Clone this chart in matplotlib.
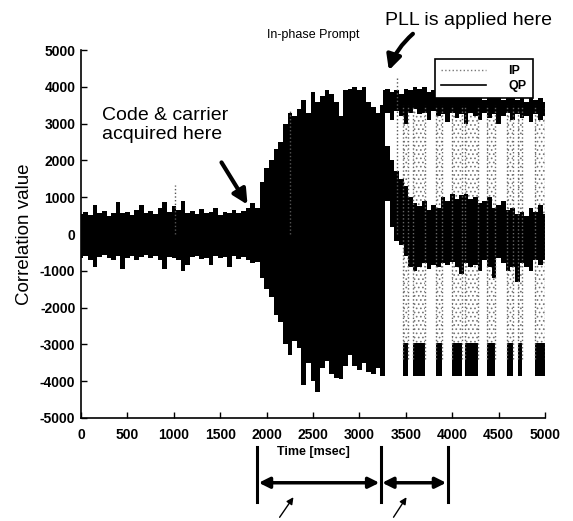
"""In-phase / quadrature prompt correlation during acquisition and PLL lock."""

import matplotlib.pyplot as plt
import numpy as np
from matplotlib.lines import Line2D

plt.rcParams["font.family"] = ["Liberation Sans", "DejaVu Sans"]
plt.rcParams["hatch.linewidth"] = 0.7
plt.rcParams["axes.unicode_minus"] = False

# envelope of the dense QP (and pre-lock IP) trace, one value per 50 ms
t_env = np.arange(0, 5001, 50)
qp_hi = [
    550, 600, 520, 800, 560, 620, 500, 580, 880, 560,
    600, 520, 640, 800, 560, 620, 540, 700, 880, 600,
    750, 650, 900, 580, 620, 540, 680, 560, 600, 700,
    520, 600, 560, 640, 580, 620, 700, 850, 700, 1400,
    1800, 2000, 2300, 2500, 3000, 3300, 3200, 3400, 3650, 3300,
    3850, 3600, 3750, 3900, 3800, 3600, 3200, 3900, 3950, 4000,
    3900, 4000, 3600, 3450, 3300, 3500, 2400, 2000, 1700, 1500,
    1300, 1000, 850, 750, 900, 650, 800, 700, 1000, 900,
    1100, 950, 1050, 1100, 950, 1000, 850, 900, 1000, 700,
    800, 900, 650, 700, 550, 600, 500, 700, 600, 800,
    550,
]
qp_lo = [
    -650, -600, -700, -900, -620, -580, -650, -700, -600, -950,
    -640, -600, -700, -620, -580, -660, -600, -700, -950, -620,
    -650, -700, -1000, -850, -620, -600, -680, -640, -850, -600,
    -650, -620, -900, -600, -680, -620, -700, -800, -750, -1200,
    -1500, -1700, -2200, -2400, -3000, -3300, -2900, -3100, -4100, -3500,
    -4000, -4300, -3650, -3450, -3800, -3900, -3950, -3600, -3300, -3600,
    -3700, -3500, -3750, -3800, -3650, -3850, 900, 200, -200, -300,
    -600, -900, -1000, -900, -800, -950, -850, -900, -800, -850,
    -750, -900, -1100, -800, -900, -850, -1000, -700, -900, -1200,
    -650, -800, -1000, -900, -1300, -800, -900, -1000, -700, -850,
    -700,
]

# IP after the PLL is applied: positive band, one value per 50 ms
pll_start = 3250
t_ip = np.arange(pll_start, 5001, 50)
ip_top_hi = [
    3900, 3950, 3850, 3900, 3800, 3950, 3900, 4000, 3950, 4000,
    3850, 3900, 3800, 3750, 3900, 3800, 3700, 3850, 3750, 3800,
    3700, 3750, 3650, 3800, 3700, 3750, 3650, 3700, 3800, 3650,
    3700, 3600, 3750, 3650, 3700, 3600,
]
ip_top_lo = [
    3200, 3300, 3100, 3350, 3200, 3000, 3300, 3400, 3250, 3300,
    3100, 3350, 3200, 3250, 3050, 3300, 3150, 3250, 3000, 3300,
    3200, 3100, 3300, 3150, 3250, 3000, 3200, 3300, 3100, 3250,
    3150, 3200, 3050, 3250, 3100, 3200,
]
# intervals where the data bits flip IP negative
ip_high = 3500
ip_low = -3400
ip_noise = 450
ip_neg_start = [3470, 3580, 3830, 4000, 4140, 4370, 4590, 4710, 4890]
ip_neg_end = [3520, 3710, 3890, 4100, 4280, 4460, 4650, 4750, 5000]

# isolated dotted IP spikes
ip_spike_t = [1010, 2250, 3400]
ip_spike_v = [1330, 3370, 4300]

# acquisition / PLL / settled marks under the axis
phase_marks = [1900, 3230, 3950]

fig = plt.figure(figsize=(5.73, 5.21), dpi=100)
ax = fig.add_axes([0.1414, 0.1977, 0.8098, 0.7063])

# IP bit flips: stippled transitions plus the negative band
for s, e in zip(ip_neg_start, ip_neg_end):
    ax.fill_between([s, e], ip_low, ip_high, facecolor="none",
                    edgecolor="#777777", hatch="....", linewidth=0)
    ax.vlines([s, e], ip_low, ip_high, colors="#666666", linestyles=":",
              linewidth=1)
    ax.fill_between([s, e], ip_low - ip_noise, ip_low + ip_noise,
                    color="black", linewidth=0)
ax.vlines(ip_spike_t, 0, ip_spike_v, colors="#555555", linestyles=":", linewidth=1)

ax.fill_between(t_env, qp_lo, qp_hi, step="mid", color="black", linewidth=0)
ax.fill_between(t_ip, ip_top_lo, ip_top_hi, step="mid", color="black",
                linewidth=0)

ax.set_xlim(0, 5000)
ax.set_ylim(-5000, 5000)
ax.set_xticks(np.arange(0, 5001, 500))
ax.set_yticks(np.arange(-5000, 5001, 1000))
ax.spines["top"].set_visible(False)
ax.spines["right"].set_visible(False)
ax.spines["left"].set_linewidth(1.2)
ax.spines["bottom"].set_linewidth(1.2)
ax.tick_params(direction="in", length=4, width=1, labelsize=10)
ax.tick_params(axis="x", pad=7)
ax.tick_params(axis="y", pad=4)
for lab in ax.get_xticklabels() + ax.get_yticklabels():
    lab.set_fontweight("bold")

ax.set_xlabel("Time [msec]", fontsize=9, fontweight="bold", labelpad=3)
ax.set_ylabel("Correlation value", fontsize=13.5, labelpad=5)
ax.set_title("In-phase Prompt", fontsize=9, pad=9)

legend = ax.legend(
    handles=[
        Line2D([], [], color="#777777", linestyle=":", linewidth=1),
        Line2D([], [], color="black", linewidth=1.2),
    ],
    labels=["IP", "QP"],
    loc="upper right",
    bbox_to_anchor=(0.974, 0.976),
    borderaxespad=0,
    handlelength=3.6,
    handletextpad=1.8,
    borderpad=0.5,
    labelspacing=0.25,
    fancybox=False,
    framealpha=1,
    edgecolor="black",
    prop={"weight": "bold", "size": 9},
)
legend.get_frame().set_linewidth(1.2)

ax.text(226, 2960, "Code & carrier\nacquired here", fontsize=14,
        ha="left", va="center", linespacing=1.2)
ax.annotate("", xy=(1810, 734), xytext=(1498, 2010),
            arrowprops=dict(arrowstyle="-|>", color="black", lw=3,
                            mutation_scale=22))
ax.text(3276, 5790, "PLL is applied here", fontsize=14, ha="left",
        va="center", clip_on=False)
ax.annotate("", xy=(3308, 4375), xytext=(3599, 5490), annotation_clip=False,
            arrowprops=dict(arrowstyle="-|>", color="black", lw=3,
                            mutation_scale=22,
                            connectionstyle="arc3,rad=0.15"))

# phase bars under the axis
trans = ax.get_xaxis_transform()
for t in phase_marks:
    ax.plot([t, t], [-0.079, -0.228], transform=trans, color="black",
            linewidth=2.2, clip_on=False)
for a, b in zip(phase_marks[:-1], phase_marks[1:]):
    ax.annotate("", xy=(b, -0.176), xytext=(a, -0.176), xycoords=trans,
                textcoords=trans, annotation_clip=False,
                arrowprops=dict(arrowstyle="<|-|>", color="black", lw=2.5,
                                mutation_scale=16, shrinkA=1, shrinkB=1))
for a, b in [(2123, 2306), (3351, 3524)]:
    ax.annotate("", xy=(b, -0.209), xytext=(a, -0.276), xycoords=trans,
                textcoords=trans, annotation_clip=False,
                arrowprops=dict(arrowstyle="-|>", color="black", lw=1,
                                mutation_scale=10))

fig.savefig("out.png", dpi=100, facecolor="white")
plt.close(fig)
